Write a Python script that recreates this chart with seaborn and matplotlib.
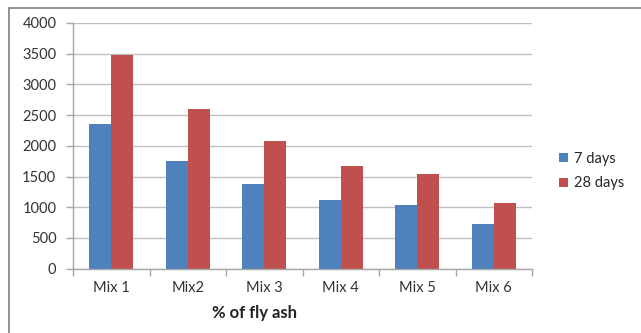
import matplotlib
matplotlib.use("Agg")
import matplotlib.pyplot as plt
from matplotlib.patches import Rectangle
import seaborn as sns
import pandas as pd

mixes = ["Mix 1", "Mix2", "Mix 3", "Mix 4", "Mix 5", "Mix 6"]
days_7 = [2350, 1750, 1380, 1115, 1035, 725]
days_28 = [3480, 2600, 2080, 1665, 1545, 1075]
series = ["7 days", "28 days"]
colors = ["#4F81BD", "#C0504D"]

df = pd.DataFrame({
    "mix": mixes * 2,
    "strength": days_7 + days_28,
    "age": [series[0]] * len(mixes) + [series[1]] * len(mixes),
})

sns.set_theme(style="white")
plt.rcParams["font.family"] = ["Lato", "DejaVu Sans"]

fig = plt.figure(figsize=(6.41, 3.33), dpi=100)
ax = fig.add_axes([73 / 641, 1 - 268.7 / 333, (532 - 73) / 641, (268.7 - 23) / 333])

sns.barplot(data=df, x="mix", y="strength", hue="age", palette=colors,
            width=0.575, saturation=1, ax=ax, edgecolor="none", legend=True)

grid_c = "#BFBFBF"
ax.set_ylim(0, 4000)
ax.set_xlim(-0.5, len(mixes) - 0.5)
ax.set_yticks(range(0, 4001, 500))
ax.yaxis.grid(True, color=grid_c, linewidth=1)
ax.set_axisbelow(True)
for s in ["top", "right"]:
    ax.spines[s].set_visible(False)
for s in ["left", "bottom"]:
    ax.spines[s].set_color("#A6A6A6")
    ax.spines[s].set_linewidth(1)

ax.set_xticks(range(len(mixes)))
ax.set_xticklabels(mixes)
ax.set_xticks([i - 0.5 for i in range(len(mixes) + 1)], minor=True)
ax.tick_params(axis="x", which="major", length=0, pad=9, labelsize=10.5, colors="#333333")
ax.tick_params(axis="x", which="minor", length=5, color="#A6A6A6", width=1, direction="out", bottom=True)
ax.tick_params(axis="y", length=5, color="#A6A6A6", width=1, direction="out", left=True,
               labelsize=10.5, colors="#333333", pad=7)
ax.set_xlabel("")
ax.set_ylabel("")

fig.text(254 / 641, 1 - 313 / 333, "% of fly ash", ha="center", va="center",
         fontsize=12, fontweight="bold", color="#222222")

handles, labels = ax.get_legend_handles_labels()
ax.legend(handles, labels, loc="center left", bbox_to_anchor=(559 / 641, 1 - 171 / 333),
          bbox_transform=fig.transFigure, frameon=False, fontsize=10.5,
          handlelength=0.6, handleheight=0.6, handletextpad=0.45, labelspacing=0.75,
          borderpad=0, borderaxespad=0)

# outer chart border
fig.patches.append(Rectangle((9 / 641, -0.05), 1.1, 1 - 8 / 333 + 0.05, transform=fig.transFigure,
                             fill=False, edgecolor="#7F7F7F", linewidth=1.2))

fig.savefig("out.png", dpi=100)
